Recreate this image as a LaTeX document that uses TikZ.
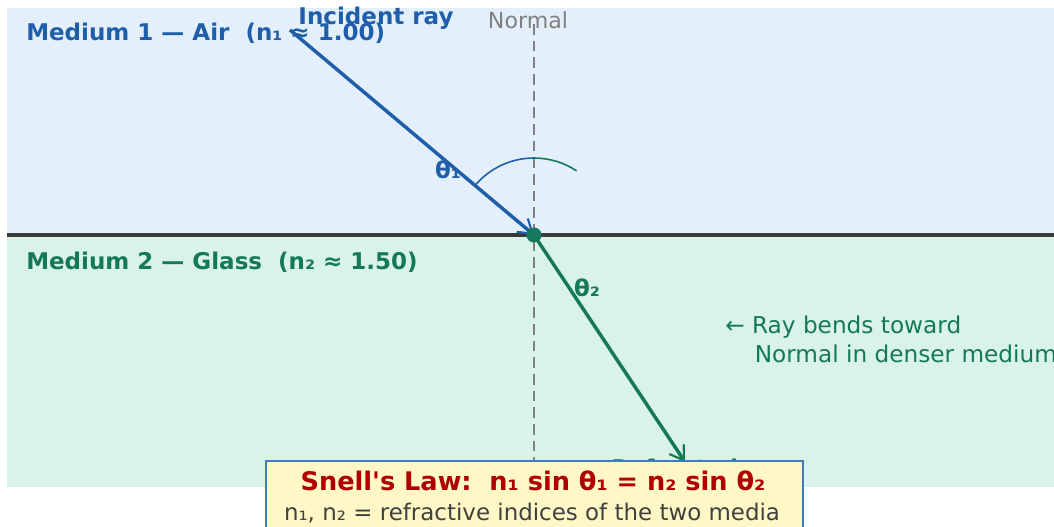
\documentclass[tikz,border=0pt]{standalone}
\usepackage{fontspec}
\setmainfont{DejaVu Sans}[Ligatures=TeXOff]
\usetikzlibrary{arrows.meta}
\definecolor{cblue}{HTML}{1F5FAA}
\definecolor{cgreen}{HTML}{14785A}
\definecolor{bgtop}{HTML}{E3F0FC}
\definecolor{bgbot}{HTML}{DAF3E8}
\definecolor{cline}{HTML}{3A3A3A}
\definecolor{cnorm}{HTML}{808080}
\definecolor{boxfill}{HTML}{FFF8C6}
\definecolor{boxdraw}{HTML}{3C7DC0}
\definecolor{cred}{HTML}{B00000}
\definecolor{csub}{HTML}{404040}
\tikzset{
  lbl/.style={inner sep=0pt, font=\fontsize{17.25}{20}\selectfont\bfseries},
  ray/.style={line width=2.6pt, -{Straight Barb[length=10pt,width=13pt,line width=1.6pt]}},
}
\begin{document}
\begin{tikzpicture}[x=0.75pt,y=-0.75pt]
\useasboundingbox (0,0) rectangle (1054,526);
% media
\fill[bgtop] (7,8) rectangle (1054,235);
\fill[bgbot] (7,235) rectangle (1054,487);
\draw[cline, line width=2.6pt] (7,235) -- (1054,235);
% normal
\coordinate (O) at (534,235);
\coordinate (ntop) at (534,24);
\coordinate (nbot) at (534,487);
\draw[cnorm, line width=1.8pt, dash pattern=on 8pt off 4.5pt] (ntop) -- (nbot);
\node[inner sep=0pt, text=cnorm, font=\fontsize{16.6}{19}\selectfont] (normal) at (528,20) {Normal};
% angle arcs
\draw[cblue, line width=1.2pt] ([shift={(-140:77)}]O) arc[start angle=-140, end angle=-90, radius=77];
\draw[cgreen, line width=1.2pt] ([shift={(-90:77)}]O) arc[start angle=-90, end angle=-56.4, radius=77];
% rays
\coordinate (inc) at (290,30);
\coordinate (refr) at (685,462);
\draw[ray, cblue] (inc) -- (O);
\draw[ray, cgreen] (O) -- (refr);
\fill[cgreen] (O) circle[radius=7.5];
% labels
\node[lbl, text=cblue, anchor=west] (m1) at (26,33) {Medium 1 — Air\ \ (n₁ ≈ 1.00)};
\node[lbl, text=cblue] (incl) at (376,18) {Incident ray};
\node[lbl, text=cgreen, anchor=west] (m2) at (26,262) {Medium 2 — Glass\ \ (n₂ ≈ 1.50)};
\node[lbl, text=cblue] (t1) at (448,170) {θ₁};
\node[lbl, text=cgreen] (t2) at (587,288) {θ₂};
\node[inner sep=0pt, text=cgreen, anchor=north west, align=left, font=\fontsize{17.4}{21.75}\selectfont] (bend) at (725,316) {← Ray bends toward\\\ \ \ \ Normal in denser medium};
\node[lbl, text=cgreen, anchor=base west] (refl) at (611,476) {Refracted ray};
% Snell box
\node[draw=boxdraw, line width=1.5pt, fill=boxfill, anchor=north west, minimum width=403pt, minimum height=60pt, inner sep=0pt] (box) at (265,460) {};
\node[inner sep=0pt, text=cred, font=\fontsize{19.2}{22}\selectfont\bfseries] (snell) at (533,481) {Snell's Law:\ \ n₁ sin θ₁ = n₂ sin θ₂};
\node[inner sep=0pt, text=csub, font=\fontsize{17.2}{20}\selectfont] (sub) at (532,513) {n₁, n₂ = refractive indices of the two media};
\end{tikzpicture}
\end{document}
